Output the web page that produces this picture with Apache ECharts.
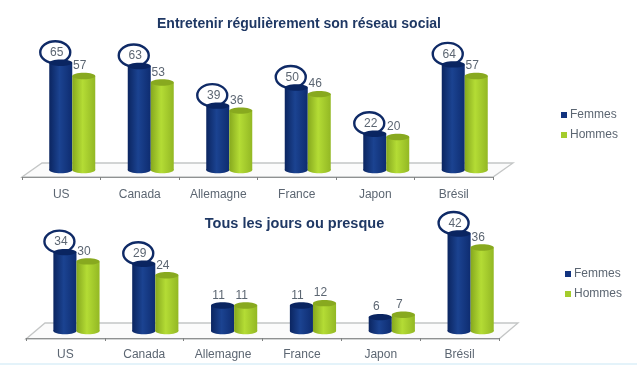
<!DOCTYPE html>
<html><head><meta charset="utf-8">
<style>html,body{margin:0;padding:0;background:#fff}#c{width:637px;height:365px;filter:blur(0.5px)}</style>
<script src="https://cdn.jsdelivr.net/npm/echarts@6/dist/echarts.min.js"></script>
</head><body><div id="c"></div>
<script>
const categories = ['US','Canada','Allemagne','France','Japon','Brésil'];
const femmesRegulier = [65,63,39,50,22,64];
const hommesRegulier = [57,53,36,46,20,57];
const femmesJours = [34,29,11,11,6,42];
const hommesJours = [30,24,11,12,7,36];
const cerclesRegulier = [0,1,2,3,4,5];
const cerclesJours = [0,1,5];
const title1 = 'Entretenir régulièrement son réseau social';
const title2 = 'Tous les jours ou presque';

const NAVY = ['#0b2560','#1b4391','#0e2c70'], GREEN = ['#86a81e','#b4dc35','#93b824'];
const TOPC = {f:'#0a2561', h:'#88a91f'};
const TXT = '#5c6672';

function cyl(dir, colors, topColor){
  return function(params, api){
    const v = api.value(1);
    const band = api.size([1,0])[0];
    const w = band*0.293;
    const p0 = api.coord([api.value(0),0]);
    const p1 = api.coord([api.value(0),v]);
    const cx = p0[0] + dir*w - 0.5;
    const ry = 3.2;
    const grad = {type:'linear',x:0,y:0,x2:1,y2:0,colorStops:[
      {offset:0,color:colors[0]},{offset:0.45,color:colors[1]},{offset:1,color:colors[2]}]};
    return {type:'group',children:[
      {type:'ellipse',shape:{cx:cx,cy:p0[1],rx:w/2,ry:ry},style:{fill:grad}},
      {type:'rect',shape:{x:cx-w/2,y:p1[1],width:w,height:p0[1]-p1[1]},style:{fill:grad}},
      {type:'ellipse',shape:{cx:cx,cy:p1[1],rx:w/2,ry:ry},style:{fill:topColor}},
      {type:'text',style:{x:cx-4,y:p1[1]-10,text:String(v),align:'center',verticalAlign:'middle',
        fill:TXT,font:'12px "Liberation Sans"'}}
    ]};
  };
}
function circle(params, api){
  const p = api.coord([api.value(0),api.value(1)]);
  return {type:'ellipse',shape:{cx:p[0]-6,cy:p[1]-10.5,rx:15,ry:11},
    style:{fill:'#fff',stroke:'#0f2a66',lineWidth:2.4}};
}
function floor(depth, slant){
  return function(params, api){
    const c = params.coordSys; const y = c.y+c.height;
    return {type:'polygon',shape:{points:[[c.x,y+depth],[c.x+slant,y-depth],[c.x+c.width+slant,y-depth],[c.x+c.width,y+depth]]},
      style:{fill:'#fbfbfb',stroke:'#c4c6c6',lineWidth:1.3}};
  };
}
function pairs(a){return a.map((v,i)=>[i,v]);}
function group(idx, fem, hom, circ, depth, slant){
  return [
    {type:'custom',silent:true,name:'sol'+idx,xAxisIndex:idx,yAxisIndex:idx,z:1,data:[[0,0]],encode:{x:0,y:1},renderItem:floor(depth,slant),clip:false},
    {type:'custom',silent:true,name:'cercles'+idx,xAxisIndex:idx,yAxisIndex:idx,z:2,data:circ.map(i=>[i,fem[i]]),encode:{x:0,y:1},renderItem:circle,clip:false},
    {type:'custom',name:'Femmes',xAxisIndex:idx,yAxisIndex:idx,z:3,itemStyle:{color:'#12337f'},data:pairs(fem),encode:{x:0,y:1},renderItem:cyl(0,NAVY,TOPC.f),clip:false},
    {type:'custom',name:'Hommes',xAxisIndex:idx,yAxisIndex:idx,z:4,itemStyle:{color:'#a4cc2c'},data:pairs(hom),encode:{x:0,y:1},renderItem:cyl(1,GREEN,TOPC.h),clip:false}
  ];
}
function legend(left,top){
  return {data:['Femmes','Hommes'],orient:'vertical',left:left,top:top,itemWidth:6,itemHeight:6,itemGap:8,icon:'rect',
    selectedMode:false,textStyle:{color:TXT,fontSize:12,fontFamily:'Liberation Sans',padding:[0,0,0,-2]}};
}
function xAxis(i,off,margin){
  return {type:'category',gridIndex:i,data:categories,offset:off,z:6,
    axisLine:{onZero:false,lineStyle:{color:'#8f9191',width:1}},
    axisTick:{show:true,length:3,inside:false,lineStyle:{color:'#7f8181'}},
    axisLabel:{color:TXT,fontSize:12,fontFamily:'Liberation Sans',margin:margin,interval:0}};
}
function yAxis(i,max){return {type:'value',gridIndex:i,min:0,max:max,show:false};}

const chart = echarts.init(document.getElementById('c'),null,{renderer:'canvas'});
chart.setOption({
  animation:false,
  backgroundColor:'#fff',
  title:[
    {text:title1,left:294,top:12,textAlign:'center',textStyle:{color:'#1f3864',fontSize:14,fontWeight:'bold',fontFamily:'Liberation Sans'}},
    {text:title2,left:289.5,top:211,textAlign:'center',textStyle:{color:'#1f3864',fontSize:14.5,fontWeight:'bold',fontFamily:'Liberation Sans'}}
  ],
  legend:[legend(556,104),legend(560,263)],
  grid:[
    {left:22,width:471,top:54.5,height:115.5},
    {left:26,width:473,top:215,height:116}
  ],
  xAxis:[xAxis(0,7,12),xAxis(1,7,11)],
  yAxis:[yAxis(0,70),yAxis(1,50)],
  graphic:[{type:'rect',shape:{x:0,y:363,width:637,height:2},style:{fill:'#e4f3fa'},silent:true}],
  series:[...group(0,femmesRegulier,hommesRegulier,cerclesRegulier,7,20),
          ...group(1,femmesJours,hommesJours,cerclesJours,8,19)]
});
</script></body></html>
